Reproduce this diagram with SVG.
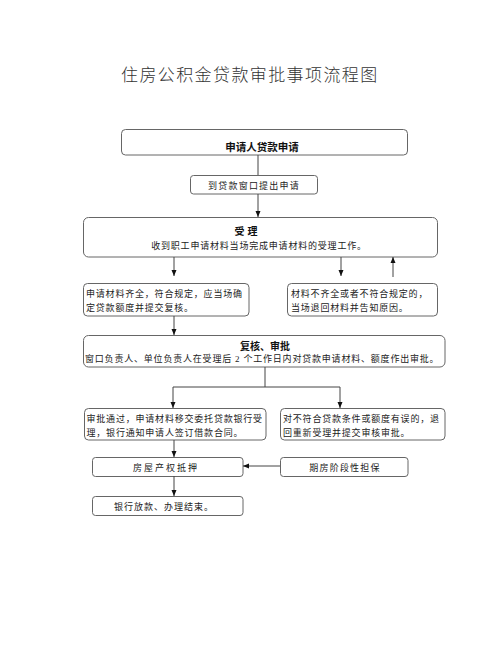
<svg xmlns="http://www.w3.org/2000/svg" width="500" height="657" viewBox="0 0 500 657">
<defs>
<marker id="ah" markerWidth="6" markerHeight="6" refX="6" refY="3" orient="auto" markerUnits="userSpaceOnUse">
<path d="M0,0.5 L6,3 L0,5.5 z" fill="#111"/>
</marker>
<style>
.box{fill:#fff;stroke:#666;stroke-width:1}
.t{font-family:"Liberation Serif","Noto Sans CJK SC",serif;font-size:9px;fill:#222;letter-spacing:0.8px}
.c{text-anchor:middle}
.b{font-family:"Liberation Sans","Noto Sans CJK SC",sans-serif;font-weight:bold;font-size:10.5px;fill:#111;text-anchor:middle}
.title{font-family:"Liberation Sans","Noto Sans CJK SC",sans-serif;font-size:17px;fill:#333;letter-spacing:1.4px;font-weight:300}
.ln{fill:none;stroke:#444;stroke-width:1}
.ar{fill:none;stroke:#444;stroke-width:1;marker-end:url(#ah)}
</style>
</defs>
<rect width="500" height="657" fill="#fff"/>
<text class="title" x="121" y="81">住房公积金贷款审批事项流程图</text>

<g id="n1">
<rect class="box" x="121.5" y="129.5" width="286" height="25.5" rx="4"/>
<text class="b" x="262" y="151">申请人贷款申请</text>
</g>
<g id="n2">
<rect class="box" x="190.5" y="175.5" width="127" height="18.5" rx="3"/>
<text class="t c" x="254" y="188.5" style="letter-spacing:1.2px">到贷款窗口提出申请</text>
</g>
<g id="n3">
<rect class="box" x="83.5" y="217.5" width="354" height="39.5" rx="5"/>
<text class="b" x="246" y="235" style="font-size:10px">受 理</text>
<text class="t c" x="259" y="248.5">收到职工申请材料当场完成申请材料的受理工作。</text>
</g>
<g id="n4a">
<rect class="box" x="83.5" y="283.5" width="165.5" height="32.5" rx="4"/>
<text class="t" x="86" y="296.5">申请材料齐全，符合规定，应当场确</text>
<text class="t" x="86" y="310.5">定贷款额度并提交复核。</text>
</g>
<g id="n4b">
<rect class="box" x="287.5" y="283.5" width="150" height="32.5" rx="4"/>
<text class="t" x="291" y="296.5">材料不齐全或者不符合规定的，</text>
<text class="t" x="291" y="310.5">当场退回材料并告知原因。</text>
</g>
<g id="n5">
<rect class="box" x="83.5" y="335.5" width="361.5" height="31.5" rx="5"/>
<text class="b" x="265" y="350" style="font-size:10px">复核、审批</text>
<text class="t" x="85" y="361.5">窗口负责人、单位负责人在受理后 2 个工作日内对贷款申请材料、额度作出审批。</text>
</g>
<g id="n6a">
<rect class="box" x="84.5" y="408.5" width="181.5" height="31.5" rx="4"/>
<text class="t" x="86.5" y="421.5">审批通过，申请材料移交委托贷款银行受</text>
<text class="t" x="86.5" y="435.5">理，银行通知申请人签订借款合同。</text>
</g>
<g id="n6b">
<rect class="box" x="280.5" y="408.5" width="164.5" height="31.5" rx="4"/>
<text class="t" x="283" y="421.5">对不符合贷款条件或额度有误的，退</text>
<text class="t" x="283" y="435.5">回重新受理并提交审核审批。</text>
</g>
<g id="n7">
<rect class="box" x="92.5" y="457.5" width="150.5" height="19" rx="3"/>
<text class="t c" x="166" y="470.5" style="letter-spacing:2px">房屋产权抵押</text>
</g>
<g id="n8">
<rect class="box" x="280.5" y="457.5" width="127.5" height="19" rx="3"/>
<text class="t c" x="345" y="470.5" style="letter-spacing:1.2px">期房阶段性担保</text>
</g>
<g id="n9">
<rect class="box" x="92.5" y="496.5" width="150.5" height="19" rx="3"/>
<text class="t c" x="164" y="509.5" style="letter-spacing:1px">银行放款、办理结束。</text>
</g>

<g id="connectors">
<line class="ln" x1="258" y1="155" x2="258" y2="175"/>
<line class="ar" x1="258" y1="194" x2="258" y2="217"/>
<line class="ar" x1="174" y1="257" x2="174" y2="276"/>
<line class="ar" x1="341" y1="257" x2="341" y2="276"/>
<line class="ar" x1="393" y1="277" x2="393" y2="257"/>
<line class="ar" x1="174" y1="316" x2="174" y2="335"/>
<polyline class="ar" points="265,367 265,387 173,387 173,408"/>
<polyline class="ar" points="265,387 340,387 340,408"/>
<line class="ar" x1="174" y1="440" x2="174" y2="457"/>
<line class="ar" x1="280" y1="466" x2="243" y2="466"/>
<line class="ar" x1="174" y1="476" x2="174" y2="496"/>
</g>
</svg>
